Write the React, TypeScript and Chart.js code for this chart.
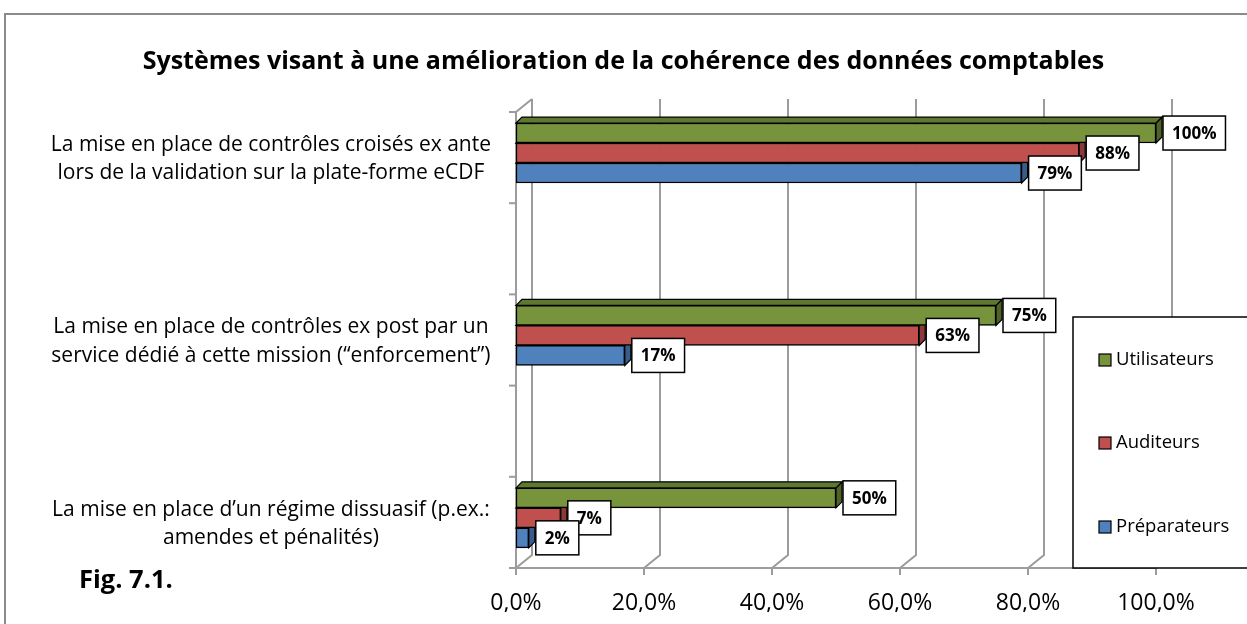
import React, { useEffect, useRef } from "react";
import { Chart, registerables } from "chart.js";

Chart.register(...registerables);

const FONT = "'Open Sans', 'Noto Sans', sans-serif";

const titleText = "Systèmes visant à une amélioration de la cohérence des données comptables";
const figText = "Fig. 7.1.";

const categories: string[][] = [
  ["La mise en place de contrôles croisés ex ante", "lors de la validation sur la plate-forme eCDF"],
  ["La mise en place de contrôles ex post par un", "service dédié à cette mission (“enforcement”)"],
  ["La mise en place d’un régime dissuasif (p.ex.:", "amendes et pénalités)"],
];

const seriesNames = ["Utilisateurs", "Auditeurs", "Préparateurs"];
const utilisateurs = [1.0, 0.75, 0.5];
const auditeurs = [0.88, 0.63, 0.07];
const preparateurs = [0.79, 0.17, 0.02];

const frontColors = ["#77933C", "#C0504D", "#4F81BD"];
const sideColors = ["#4F6228", "#8C3A37", "#385D8A"];
const topColors = ["#5F7830", "#9E4240", "#416C9E"];

const xMin = 0;
const xMax = 1;
const xStep = 0.2;

const DEPTH = 6;
const WALL_DX = 16;
const WALL_DY = 13;
const GRID = "#9c9c9c";

const threeD = {
  id: "threeD",
  beforeDraw(chart: any) {
    const ctx = chart.ctx;
    ctx.save();
    ctx.fillStyle = "#fff";
    ctx.fillRect(0, 0, chart.width, chart.height);
    ctx.strokeStyle = "#8a8a8a";
    ctx.lineWidth = 2;
    ctx.beginPath();
    ctx.moveTo(5, chart.height + 2);
    ctx.lineTo(5, 14);
    ctx.lineTo(chart.width + 2, 14);
    ctx.stroke();
    ctx.restore();
  },
  beforeDatasetsDraw(chart: any) {
    const ctx = chart.ctx;
    const { left, right, top, bottom } = chart.chartArea;
    const xs = chart.scales.x;
    ctx.save();
    ctx.strokeStyle = GRID;
    ctx.lineWidth = 2;
    xs.ticks.forEach((t: any) => {
      const xf = xs.getPixelForValue(t.value);
      const xb = xf + WALL_DX;
      ctx.beginPath();
      ctx.moveTo(xb, top - WALL_DY);
      ctx.lineTo(xb, bottom - WALL_DY);
      ctx.lineTo(xf, bottom);
      ctx.stroke();
      ctx.beginPath();
      ctx.moveTo(xf, bottom);
      ctx.lineTo(xf, bottom + 7);
      ctx.stroke();
    });
    ctx.beginPath();
    ctx.moveTo(left, bottom);
    ctx.lineTo(right, bottom);
    ctx.stroke();
    ctx.beginPath();
    ctx.moveTo(left + WALL_DX, top - WALL_DY);
    ctx.lineTo(left, top);
    ctx.lineTo(left, bottom);
    ctx.stroke();
    for (let k = 0; k <= 5; k++) {
      const y = top + (k * (bottom - top)) / 5;
      ctx.beginPath();
      ctx.moveTo(left - 7, y);
      ctx.lineTo(left, y);
      ctx.stroke();
    }
    ctx.restore();
  },
  afterDatasetDraw(chart: any, args: any) {
    const ctx = chart.ctx;
    const i = args.index;
    ctx.save();
    ctx.strokeStyle = "#000";
    ctx.lineWidth = 1.2;
    args.meta.data.forEach((el: any) => {
      const { x, y, base, height } = el.getProps(["x", "y", "base", "height"], true);
      const t = y - height / 2;
      const b = y + height / 2;
      ctx.beginPath();
      ctx.moveTo(x, t);
      ctx.lineTo(x + DEPTH, t - DEPTH);
      ctx.lineTo(x + DEPTH, b - DEPTH);
      ctx.lineTo(x, b);
      ctx.closePath();
      ctx.fillStyle = sideColors[i];
      ctx.fill();
      ctx.stroke();
      ctx.beginPath();
      ctx.moveTo(base, t);
      ctx.lineTo(base + DEPTH, t - DEPTH);
      ctx.lineTo(x + DEPTH, t - DEPTH);
      ctx.lineTo(x, t);
      ctx.closePath();
      ctx.fillStyle = topColors[i];
      ctx.fill();
      ctx.stroke();
    });
    ctx.restore();
  },
  afterDatasetsDraw(chart: any) {
    const ctx = chart.ctx;
    ctx.save();
    ctx.font = `bold 17px ${FONT}`;
    ctx.textBaseline = "middle";
    ctx.textAlign = "center";
    chart.data.datasets.forEach((ds: any, i: number) => {
      const meta = chart.getDatasetMeta(i);
      meta.data.forEach((el: any, j: number) => {
        const { x, y } = el.getProps(["x", "y"], true);
        const txt = Math.round(ds.data[j].x * 100) + "%";
        const tw = ctx.measureText(txt).width;
        const w = tw + 18;
        const h = 34;
        const x0 = x + DEPTH + 1;
        const y0 = y - h / 2;
        ctx.fillStyle = "#fff";
        ctx.fillRect(x0, y0, w, h);
        ctx.strokeStyle = "#000";
        ctx.lineWidth = 1.5;
        ctx.strokeRect(x0, y0, w, h);
        ctx.fillStyle = "#000";
        ctx.fillText(txt, x0 + w / 2, y0 + h / 2 + 1);
      });
    });
    ctx.restore();
  },
  afterDraw(chart: any) {
    const ctx = chart.ctx;
    ctx.save();
    const lx = 1073;
    const ly = 317;
    const lw = 200;
    const lh = 251;
    ctx.fillStyle = "#fff";
    ctx.fillRect(lx, ly, lw, lh);
    ctx.strokeStyle = "#000";
    ctx.lineWidth = 1.5;
    ctx.strokeRect(lx, ly, lw, lh);
    ctx.font = `18.5px ${FONT}`;
    ctx.textBaseline = "middle";
    ctx.textAlign = "left";
    const rows = [360, 443, 527];
    chart.data.datasets.forEach((ds: any, i: number) => {
      const cy = rows[i];
      ctx.fillStyle = ds.backgroundColor;
      ctx.fillRect(1099, cy - 6, 12, 12);
      ctx.lineWidth = 1.2;
      ctx.strokeStyle = "#000";
      ctx.strokeRect(1099, cy - 6, 12, 12);
      ctx.fillStyle = "#000";
      ctx.fillText(ds.label, 1116, cy);
    });
    ctx.font = `bold 25.5px ${FONT}`;
    ctx.textBaseline = "middle";
    ctx.fillText(figText, 79, 581);
    ctx.restore();
  },
};

export default function App() {
  const ref = useRef<HTMLCanvasElement | null>(null);
  useEffect(() => {
    if (!ref.current) return;
    const series = [utilisateurs, auditeurs, preparateurs];
    const chart = new Chart(ref.current, {
      type: "bar",
      data: {
        datasets: series.map((vals, i) => ({
          label: seriesNames[i],
          data: vals.map((v, j) => ({ x: v, y: j })),
          backgroundColor: frontColors[i],
          borderColor: "#000",
          borderWidth: 1.5,
          borderSkipped: false,
          barThickness: 20,
        })),
      },
      options: {
        indexAxis: "y",
        animation: false,
        responsive: false,
        layout: { padding: { left: 0, right: 0, top: 0, bottom: 12 } },
        plugins: {
          legend: { display: false },
          tooltip: { enabled: false },
          title: {
            display: true,
            text: titleText,
            color: "#000",
            font: { family: FONT, size: 25, weight: "bold", lineHeight: 1.2 },
            padding: { top: 47, bottom: 35 },
          },
        },
        scales: {
          x: {
            type: "linear",
            min: xMin,
            max: xMax,
            grid: { display: false, drawTicks: false },
            border: { display: false },
            afterFit: (s: any) => {
              s.height = 44;
              s.paddingLeft = 0;
              s.paddingRight = 0;
            },
            ticks: {
              stepSize: xStep,
              color: "#000",
              padding: 22,
              font: { family: FONT, size: 23 },
              callback: (v: any) => (Number(v) * 100).toFixed(1).replace(".", ",") + "%",
            },
          },
          y: {
            type: "linear",
            position: "left",
            offset: false,
            min: -0.225,
            max: 2.275,
            reverse: true,
            grid: { display: false, drawTicks: false },
            border: { display: false },
            afterBuildTicks: (s: any) => {
              s.ticks = categories.map((_, i) => ({ value: i }));
            },
            afterFit: (s: any) => {
              s.width = 516;
              s.paddingTop = 0;
              s.paddingBottom = 0;
            },
            ticks: {
              color: "#000",
              crossAlign: "center",
              padding: 25,
              labelOffset: 6,
              font: { family: FONT, size: 21, lineHeight: 1.35 },
              callback: (v: any) => categories[Math.round(Number(v))] || "",
            },
          },
          yRight: {
            type: "linear",
            position: "right",
            display: true,
            grid: { display: false, drawTicks: false },
            border: { display: false },
            ticks: { display: false },
            afterFit: (s: any) => {
              s.width = 91;
              s.paddingTop = 0;
              s.paddingBottom = 0;
            },
          },
        },
      },
      plugins: [threeD],
    } as any);
    return () => chart.destroy();
  }, []);
  return (
    <div style={{ position: "fixed", left: 0, top: 0, width: 1247, height: 624, background: "#fff" }}>
      <canvas ref={ref} width={1247} height={624} style={{ display: "block" }} />
    </div>
  );
}
